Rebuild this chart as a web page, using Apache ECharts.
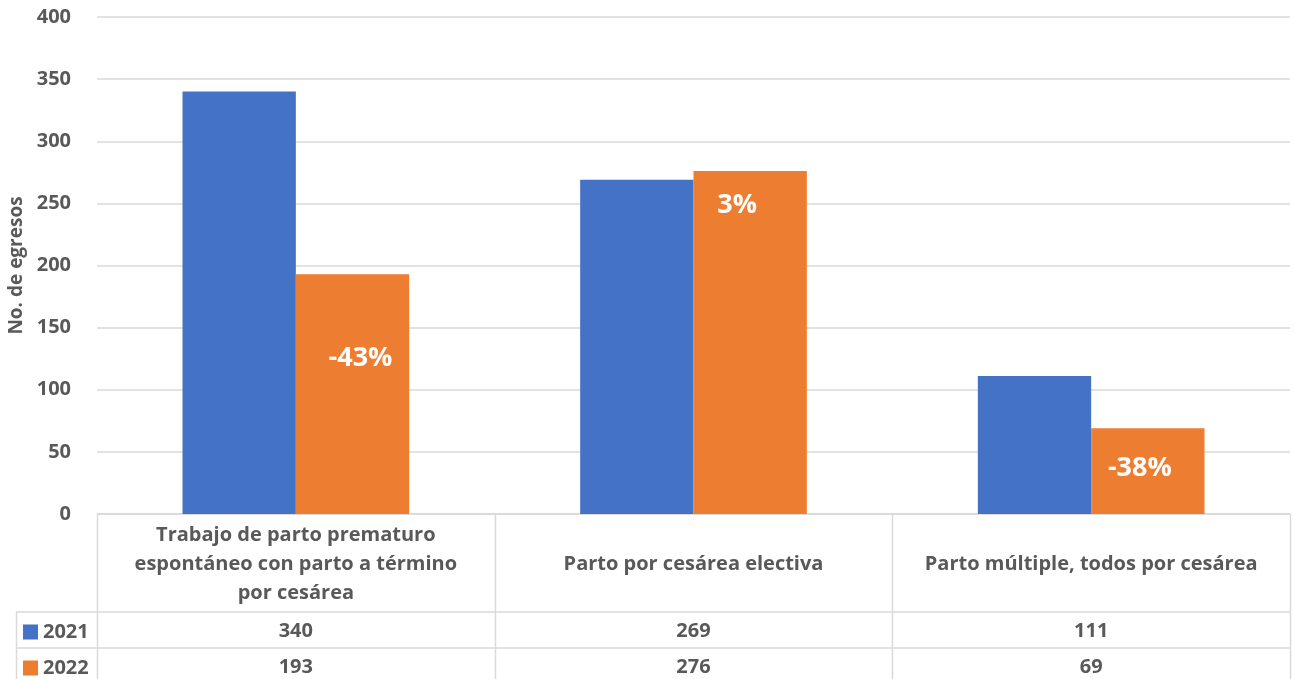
<!DOCTYPE html>
<html>
<head>
<meta charset="utf-8">
<title>Egresos por tipo de parto</title>
<script src="https://cdn.jsdelivr.net/npm/echarts@6/dist/echarts.min.js"></script>
<style>
  html, body { margin: 0; padding: 0; background: #fff; }
  #chart { width: 1294px; height: 679px; }
</style>
</head>
<body>
<div id="chart"></div>
<script>
// Categories (diagnosis groups) and yearly discharge counts
const categories = [
  'Trabajo de parto prematuro\nespontáneo con parto a término\npor cesárea',
  'Parto por cesárea electiva',
  'Parto múltiple, todos por cesárea'
];
const years = ['2021', '2022'];
const values2021 = [340, 269, 111];
const values2022 = [193, 276, 69];
const yTicks = { min: 0, max: 400, interval: 50 };
const yAxisTitle = 'No. de egresos';

const BLUE = '#4472C4';
const ORANGE = '#ED7D31';
const TEXT = '#595959';
const LINE = '#D9D9D9';
const FONT = '"Open Sans", Lato, sans-serif';

// Change 2021 -> 2022 shown inside the 2022 bars
const pctChange = values2022.map((v, i) => Math.round((v - values2021[i]) / values2021[i] * 100));

// Label placement inside each 2022 bar (distance from bar top, horizontal nudge)
const labelPlace = [
  { distance: 71, dx: 8 },
  { distance: 21, dx: -13 },
  { distance: 27, dx: -8 }
];

const chart = echarts.init(document.getElementById('chart'), null, { renderer: 'canvas' });

// Data table geometry (pixel layout of the table under the plot)
const plotLeft = 97, plotRight = 1290, plotBottom = 514;
const rowY = [612, 648];
const legendLeft = 16, tableBottom = 690;
const colW = (plotRight - plotLeft) / categories.length;

const tableLines = [];
tableLines.push({ type: 'line', shape: { x1: plotLeft, y1: plotBottom, x2: plotRight, y2: plotBottom } });
rowY.forEach(y => tableLines.push({ type: 'line', shape: { x1: legendLeft, y1: y, x2: plotRight, y2: y } }));
for (let i = 0; i <= categories.length; i++) {
  const x = Math.round(plotLeft + colW * i) + 0.5;
  tableLines.push({ type: 'line', shape: { x1: x, y1: plotBottom, x2: x, y2: tableBottom } });
}
tableLines.push({ type: 'line', shape: { x1: legendLeft + 0.5, y1: rowY[0], x2: legendLeft + 0.5, y2: tableBottom } });
tableLines.forEach(l => { l.style = { stroke: LINE, lineWidth: 1.5 }; l.silent = true; });

const labelText = { color: TEXT, fontFamily: FONT, fontWeight: 'bold', fontSize: 20 };

const rowAxis = (data, margin) => ({
  type: 'category',
  data: data.map(String),
  position: 'bottom',
  axisLine: { show: false },
  axisTick: { show: false },
  splitLine: { show: false },
  axisLabel: Object.assign({ interval: 0, margin: margin, verticalAlign: 'middle' }, labelText)
});

// One legend entry per table row
const rowLegend = (name, y) => ({
  orient: 'vertical',
  left: 23, top: y - 8,
  padding: 0,
  itemWidth: 15, itemHeight: 15,
  icon: 'rect',
  selectedMode: false,
  textStyle: labelText,
  data: [name]
});

chart.setOption({
  animation: false,
  textStyle: { fontFamily: FONT },
  grid: {
    left: plotLeft, right: 1294 - plotRight, top: 17, bottom: 679 - plotBottom,
    outerBoundsMode: 'none', containLabel: false
  },
  legend: [rowLegend(years[0], 630), rowLegend(years[1], 666)],
  xAxis: [
    {
      type: 'category',
      data: categories,
      axisLine: { show: false },
      axisTick: { show: false },
      axisLabel: Object.assign({
        interval: 0, margin: 50, verticalAlign: 'middle', align: 'center', lineHeight: 29
      }, labelText)
    },
    rowAxis(values2021, 117),
    rowAxis(values2022, 153)
  ],
  yAxis: {
    type: 'value',
    min: yTicks.min, max: yTicks.max, interval: yTicks.interval,
    name: yAxisTitle,
    nameLocation: 'middle',
    nameGap: 71,
    nameTextStyle: { color: TEXT, fontFamily: FONT, fontWeight: 'bold', fontSize: 19 },
    axisLine: { show: false },
    axisTick: { show: false },
    axisLabel: { margin: 26, color: TEXT, fontFamily: FONT, fontWeight: 'bold', fontSize: 20 },
    splitLine: { lineStyle: { color: LINE, width: 1.5 } }
  },
  series: [
    {
      name: years[0],
      type: 'bar',
      data: values2021,
      barGap: '0%',
      barCategoryGap: '43%',
      itemStyle: { color: BLUE }
    },
    {
      name: years[1],
      type: 'bar',
      data: values2022.map((v, i) => ({
        value: v,
        label: {
          show: true,
          position: 'insideTop',
          distance: labelPlace[i].distance,
          offset: [labelPlace[i].dx, 0],
          formatter: pctChange[i] + '%',
          color: '#FFFFFF',
          fontFamily: FONT,
          fontWeight: 'bold',
          fontSize: 27
        }
      })),
      itemStyle: { color: ORANGE }
    }
  ],
  graphic: tableLines
});
</script>
</body>
</html>
